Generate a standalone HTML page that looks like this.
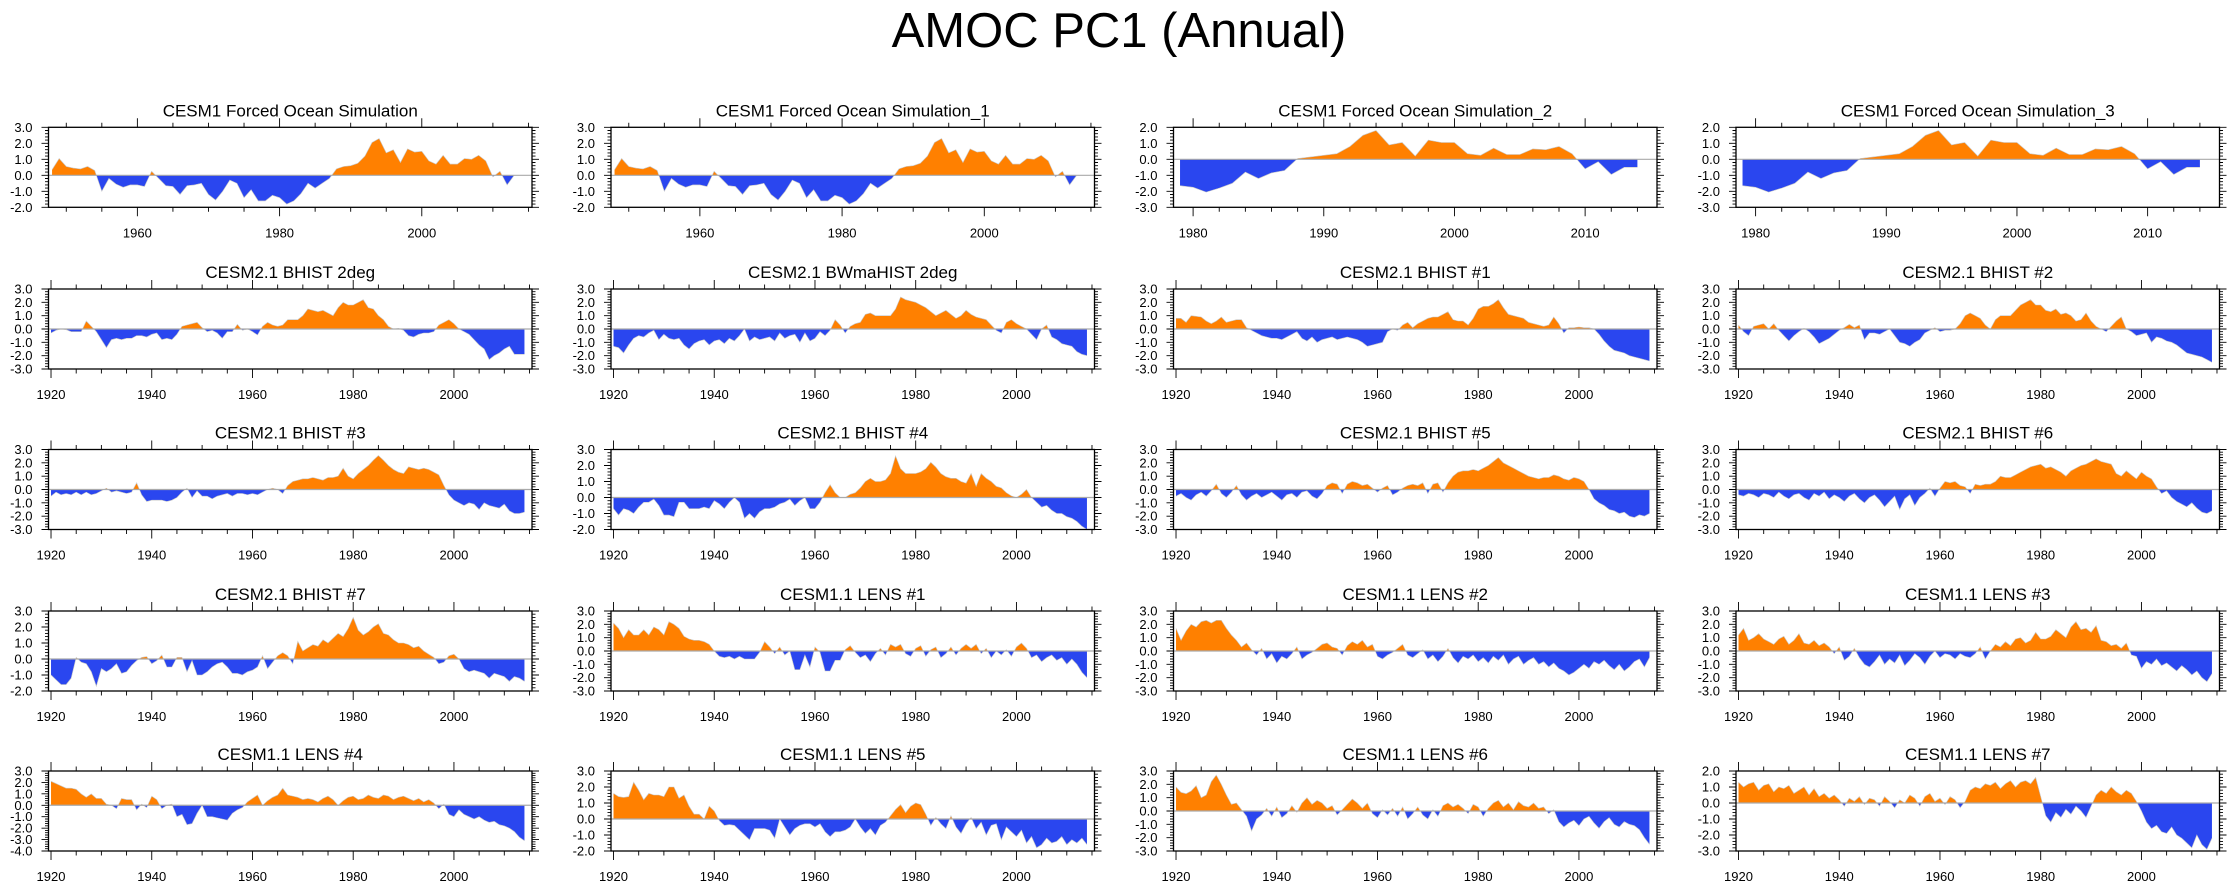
<!DOCTYPE html>
<html><head><meta charset="utf-8"><title>AMOC PC1 (Annual)</title>
<style>
html,body{margin:0;padding:0;background:#fff;}
svg{display:block;font-family:"Liberation Sans",Arial,sans-serif;}
</style></head>
<body>
<svg id="chart" width="2238" height="890" viewBox="0 0 2238 890" xmlns="http://www.w3.org/2000/svg">
<rect width="2238" height="890" fill="#fff"/>
<text x="1119" y="47" text-anchor="middle" font-size="49" fill="#000">AMOC PC1 (Annual)</text>
</svg>
<script>
// ---- data (annual PC1 values) ----
const fosStart = 1948;
const fos = [0.35,1.05,0.55,0.45,0.4,0.55,0.3,-1.0,-0.2,-0.55,-0.75,-0.6,-0.6,-0.7,0.25,-0.2,-0.65,-0.7,-1.2,-0.65,-0.6,-0.5,-1.2,-1.55,-1.0,-0.3,-0.5,-1.4,-0.9,-1.6,-1.6,-1.25,-1.4,-1.8,-1.6,-1.15,-0.5,-0.8,-0.5,-0.2,0.4,0.55,0.6,0.75,1.2,2.05,2.3,1.4,1.6,0.8,1.65,1.45,1.5,0.9,0.7,1.25,0.7,0.7,1.05,1.0,1.25,0.9,-0.1,0.25,-0.6,0.0];
const fos2Start = 1979;
const fos2 = [-1.65,-1.75,-2.05,-1.8,-1.5,-0.8,-1.2,-0.85,-0.7,0.05,0.15,0.25,0.35,0.8,1.5,1.8,0.9,1.05,0.2,1.2,1.05,1.05,0.35,0.25,0.7,0.3,0.3,0.65,0.6,0.8,0.35,-0.6,-0.15,-0.95,-0.5,-0.5];
const histStart = 1920;
const bhist2deg = [-0.3,-0.1,0.0,-0.05,-0.2,-0.2,-0.2,0.6,0.2,-0.2,-0.8,-1.4,-0.8,-0.7,-0.8,-0.7,-0.7,-0.5,-0.5,-0.6,-0.4,-0.3,-0.8,-0.7,-0.8,-0.4,0.2,0.3,0.4,0.5,0.1,-0.2,-0.1,-0.3,-0.7,-0.2,-0.2,0.35,-0.1,0.0,-0.2,-0.45,0.2,0.5,0.3,0.2,0.3,0.7,0.7,0.7,1.0,1.5,1.4,1.3,1.4,1.2,1.0,1.6,2.0,1.8,1.8,2.0,2.2,1.6,1.5,1.0,0.7,0.2,0.0,0.05,-0.1,-0.5,-0.6,-0.4,-0.3,-0.3,-0.2,0.3,0.5,0.7,0.4,0.0,-0.2,-0.4,-0.8,-1.2,-1.5,-2.3,-2.0,-1.8,-1.5,-1.3,-1.9,-1.9,-1.9];
const bwma = [-1.3,-1.4,-1.8,-1.2,-0.7,-0.5,-0.6,-0.3,-0.1,-0.8,-0.4,-0.7,-0.8,-0.7,-1.2,-1.5,-1.1,-0.9,-0.8,-1.2,-0.9,-0.8,-1.1,-0.7,-0.9,-0.5,0.0,-0.9,-0.6,-0.8,-0.7,-0.6,-0.9,-0.3,-0.7,-0.5,-0.4,-1.0,-0.3,-0.9,-0.7,-0.2,-0.5,-0.1,0.7,0.3,-0.3,0.2,0.4,0.5,1.1,1.2,1.0,1.0,1.0,1.0,1.5,2.4,2.2,2.1,2.0,1.8,1.6,1.3,1.0,1.2,1.4,1.1,0.8,1.0,1.4,1.1,0.9,0.8,0.7,0.3,-0.1,-0.3,0.5,0.7,0.4,0.2,0.0,-0.4,-0.8,0.0,0.3,-0.6,-0.8,-1.1,-1.2,-1.3,-1.7,-1.9,-2.0];
const bhist1 = [0.8,0.8,0.5,1.0,0.95,0.9,0.6,0.4,0.6,0.9,0.5,0.6,0.7,0.7,0.1,-0.1,-0.3,-0.5,-0.6,-0.7,-0.7,-0.8,-0.6,-0.4,-0.2,-0.7,-0.9,-0.6,-1.0,-0.8,-0.7,-0.6,-0.8,-0.7,-0.6,-0.7,-0.8,-1.0,-1.3,-1.2,-1.1,-1.0,-0.2,0.0,-0.1,0.3,0.5,0.1,0.4,0.6,0.8,0.9,0.9,1.1,1.3,0.7,0.6,0.6,0.3,0.8,1.5,1.7,1.7,1.9,2.2,1.6,1.1,1.0,0.9,0.8,0.5,0.4,0.3,0.2,0.3,0.9,0.4,-0.3,0.1,0.1,0.15,0.1,0.1,0.0,-0.4,-0.9,-1.3,-1.6,-1.7,-1.8,-2.0,-2.1,-2.2,-2.3,-2.4];
const bhist2 = [0.3,-0.2,-0.5,0.2,0.3,0.4,0.0,0.4,-0.1,-0.5,-0.9,-0.5,-0.2,0.05,-0.2,-0.6,-1.1,-0.9,-0.7,-0.4,-0.1,0.1,0.35,0.1,0.3,-0.8,-0.3,-0.3,-0.4,-0.2,0.0,-0.5,-1.0,-1.1,-1.3,-1.0,-0.8,-0.3,-0.1,0.1,-0.2,-0.1,-0.1,0.0,0.4,1.0,1.2,1.0,0.8,0.3,0.0,0.7,1.0,1.0,1.0,1.4,1.8,2.0,2.2,1.8,1.8,1.4,1.3,1.5,1.1,1.2,1.0,0.6,0.7,1.2,0.6,0.2,0.0,-0.2,0.2,0.6,0.9,0.0,-0.2,-0.5,-0.4,-0.3,-1.0,-0.6,-0.7,-0.9,-1.0,-1.2,-1.5,-1.8,-1.9,-2.0,-2.1,-2.3,-2.5];
const bhist3 = [-0.5,-0.2,-0.4,-0.3,-0.4,-0.2,-0.4,-0.2,-0.4,-0.3,-0.1,0.1,-0.2,-0.1,-0.2,-0.3,-0.2,0.5,-0.4,-0.9,-0.8,-0.8,-0.8,-0.9,-0.8,-0.6,-0.2,0.1,-0.6,-0.1,-0.5,-0.5,-0.7,-0.5,-0.4,-0.3,-0.5,-0.3,-0.3,-0.4,-0.3,-0.4,-0.2,0.0,0.1,0.0,-0.3,0.3,0.6,0.7,0.8,0.8,0.9,0.8,0.7,0.9,0.9,1.0,1.6,1.0,0.8,1.2,1.5,1.8,2.2,2.55,2.2,1.8,1.5,1.3,1.2,1.7,1.6,1.5,1.6,1.5,1.3,1.1,0.3,-0.4,-0.8,-1.0,-1.2,-1.0,-1.1,-1.5,-1.0,-1.2,-1.3,-1.4,-1.1,-1.6,-1.8,-1.8,-1.7];
const bhist4 = [-0.7,-1.1,-0.7,-0.8,-1.0,-0.6,-0.3,-0.3,-0.1,-0.5,-1.1,-1.1,-1.2,-0.3,-0.3,-0.7,-0.7,-0.7,-0.6,-0.7,-0.2,-0.4,-0.7,-0.3,0.0,-0.3,-1.3,-1.0,-1.3,-0.9,-0.7,-0.7,-0.6,-0.4,-0.3,-0.1,-0.5,-0.2,0.0,-0.7,-0.7,-0.3,0.3,0.8,0.3,0.0,0.0,0.2,0.3,0.6,1.0,1.2,1.0,1.0,1.1,1.5,2.6,1.8,1.5,1.5,1.5,1.6,1.8,2.2,1.9,1.5,1.3,1.2,1.2,1.0,0.9,1.5,0.7,1.5,1.2,1.0,0.7,0.6,0.3,0.1,0.0,0.2,0.5,0.0,-0.3,-0.6,-0.5,-0.8,-1.0,-1.0,-1.2,-1.3,-1.5,-1.8,-2.0];
const bhist5 = [-0.5,-0.3,-0.6,-0.8,-0.4,-0.2,-0.5,-0.1,0.4,-0.3,-0.6,-0.2,0.3,-0.4,-0.8,-0.5,-0.3,-0.6,-0.4,-0.2,-0.5,-0.8,-0.4,-0.3,-0.6,-0.2,-0.1,-0.5,-0.7,-0.3,0.3,0.5,0.4,-0.3,0.4,0.6,0.5,0.3,0.4,0.1,-0.2,0.1,0.3,-0.4,-0.2,0.1,0.3,0.4,0.3,0.5,-0.3,0.4,0.5,-0.2,0.5,1.0,1.3,1.4,1.4,1.5,1.4,1.6,1.8,2.1,2.4,2.0,1.8,1.6,1.4,1.2,1.0,0.9,0.8,0.9,0.9,1.1,1.0,0.8,0.7,0.9,0.8,0.6,0.0,-0.7,-1.0,-1.2,-1.5,-1.6,-1.8,-1.7,-2.0,-2.1,-1.9,-2.0,-1.8];
const bhist6 = [-0.4,-0.5,-0.3,-0.4,-0.6,-0.3,-0.4,-0.6,-0.2,-0.5,-0.7,-0.4,-0.3,-0.6,-0.8,-0.3,-0.5,-0.2,-0.7,-0.4,-0.6,-0.9,-0.5,-0.3,-0.7,-1.0,-0.6,-0.4,-0.8,-1.3,-0.9,-0.5,-1.5,-0.7,-0.4,-1.2,-0.6,-0.3,0.1,-0.5,0.1,0.6,0.5,0.6,0.3,0.2,-0.3,0.4,0.3,0.4,0.4,0.6,1.0,0.9,0.9,1.1,1.3,1.5,1.7,1.8,1.9,1.6,1.7,1.5,1.3,1.0,1.4,1.6,1.8,1.9,2.1,2.3,2.1,2.0,1.9,1.2,1.0,1.4,1.1,0.8,1.3,1.0,0.8,0.2,-0.3,-0.1,-0.6,-0.9,-1.1,-1.3,-1.0,-1.4,-1.7,-1.8,-1.6];
const bhist7 = [-1.0,-1.3,-1.6,-1.6,-1.2,0.1,-0.2,-0.3,-0.8,-1.7,-0.6,-0.8,-0.6,-0.3,-0.9,-0.8,-0.4,-0.1,0.1,0.15,-0.3,-0.1,0.25,-0.5,-0.5,0.1,0.1,-0.8,-0.1,-1.0,-1.0,-0.8,-0.5,-0.3,-0.2,-0.5,-0.9,-0.9,-1.0,-0.8,-0.7,-0.5,0.2,-0.6,-0.2,0.2,0.4,0.2,-0.3,1.1,0.5,0.7,0.9,0.8,1.2,1.0,1.3,1.6,1.4,1.9,2.6,1.8,1.5,1.7,2.0,2.2,1.6,1.5,1.2,1.0,1.0,0.9,0.7,0.8,0.5,0.3,0.1,-0.3,-0.2,0.2,0.3,0.0,-0.6,-0.8,-0.7,-0.8,-0.9,-1.2,-0.9,-1.0,-1.1,-1.4,-1.1,-1.2,-1.4];
const lens1 = [2.1,1.7,1.0,1.6,1.2,1.2,1.6,1.2,1.8,1.6,1.2,2.2,2.0,1.7,1.1,0.9,0.8,0.8,0.7,0.5,0.0,-0.4,-0.5,-0.4,-0.6,-0.4,-0.6,-0.6,-0.6,-0.1,0.7,0.3,-0.2,0.3,-0.3,0.0,-1.4,-1.4,-0.3,-1.2,0.3,-0.1,-1.5,-1.5,-0.7,-0.7,0.1,0.4,-0.1,-0.5,-0.3,-0.8,-0.2,0.2,-0.3,0.5,0.3,0.5,-0.2,-0.4,0.2,0.4,-0.4,0.1,0.3,-0.5,-0.2,0.3,-0.3,0.2,0.5,0.2,0.5,-0.2,0.2,-0.5,0.0,-0.3,0.1,-0.4,0.3,0.6,0.2,-0.5,-0.3,-0.8,-0.5,-0.3,-0.7,-0.5,-1.0,-0.6,-1.0,-1.6,-2.0];
const lens2 = [1.7,0.8,1.5,2.0,1.8,2.2,2.3,2.1,2.3,2.3,1.7,1.2,0.8,0.3,0.6,0.1,-0.3,0.2,-0.6,-0.2,-0.9,-0.4,-0.6,-0.2,0.3,-0.6,-0.3,-0.1,0.2,0.5,0.6,0.3,0.2,-0.3,0.4,0.7,0.5,0.8,0.3,0.5,-0.4,-0.6,-0.3,-0.1,0.2,0.5,-0.3,-0.5,-0.2,0.1,-0.6,-0.3,-0.8,-0.4,0.2,-0.5,-0.9,-0.4,-0.6,-0.3,-0.8,-0.5,-0.9,-0.4,-0.7,-0.3,-1.0,-0.6,-0.4,-1.0,-0.7,-0.5,-1.0,-0.8,-1.2,-0.9,-1.3,-1.5,-1.8,-1.6,-1.3,-1.0,-1.3,-0.8,-1.0,-0.7,-1.1,-1.4,-1.0,-1.5,-1.2,-0.8,-0.6,-1.2,-0.5];
const lens3 = [1.2,1.7,0.8,1.0,1.3,0.9,0.7,0.5,0.9,1.1,0.5,0.8,1.3,0.6,0.5,0.8,0.4,0.6,0.3,-0.2,0.3,-0.7,-0.4,0.2,-0.5,-1.0,-1.2,-0.8,-0.3,-1.0,-0.6,-0.9,-0.3,-1.1,-0.7,-0.2,-0.5,-1.0,-0.4,0.0,-0.5,-0.2,-0.3,-0.6,-0.2,-0.4,-0.5,-0.2,0.3,-0.6,0.0,0.5,0.3,0.7,0.4,0.9,1.0,0.6,0.8,1.4,0.9,0.9,1.1,1.6,1.3,1.0,1.8,2.2,1.6,1.7,1.4,1.9,0.8,0.7,0.4,0.5,0.2,0.6,-0.3,-0.4,-1.3,-0.8,-1.0,-0.6,-1.1,-0.9,-1.2,-1.5,-1.1,-1.4,-1.8,-1.5,-2.0,-2.3,-1.7];
const lens4 = [2.1,1.9,1.7,1.5,1.5,1.4,1.0,0.7,1.0,0.6,0.6,0.1,0.0,-0.3,0.6,0.5,0.5,-0.4,0.1,-0.2,0.8,0.5,-0.3,0.0,0.1,-1.0,-0.8,-1.7,-1.6,-0.7,0.0,-1.0,-1.0,-1.1,-1.2,-1.3,-0.7,-0.4,-0.2,0.3,0.6,0.9,0.0,0.4,0.7,0.9,1.5,0.9,0.8,0.7,0.5,0.6,0.5,0.3,0.6,0.8,0.5,0.0,0.4,0.7,0.8,0.5,0.6,0.9,0.7,0.6,0.9,0.8,0.5,0.7,0.8,0.6,0.4,0.6,0.3,0.5,0.2,-0.3,0.1,-0.8,-1.0,-0.4,-0.8,-1.0,-1.2,-1.0,-1.3,-1.5,-1.4,-1.7,-1.8,-2.0,-2.3,-2.8,-3.1];
const lens5 = [1.6,1.4,1.35,1.4,2.3,1.8,1.2,1.6,1.5,1.5,1.4,2.0,2.0,1.3,1.5,0.8,0.3,0.3,0.0,0.8,0.5,-0.1,-0.4,-0.35,-0.4,-0.7,-1.0,-1.3,-0.6,-0.6,-0.6,-0.7,-1.2,0.0,-0.5,-1.0,-0.6,-0.4,-0.3,-0.3,-0.5,-0.3,-0.8,-1.1,-0.8,-0.8,-0.7,-0.5,0.0,-0.5,-0.9,-0.6,-1.0,-0.4,-0.2,0.2,0.6,0.9,0.4,0.8,1.0,0.9,0.3,-0.4,0.1,-0.3,-0.6,0.2,-0.5,-0.9,-0.3,0.1,-0.6,-0.2,-1.0,-0.4,-0.3,-1.3,-0.5,-0.8,-1.1,-0.7,-1.5,-1.1,-1.8,-1.6,-1.2,-1.5,-1.4,-1.1,-1.6,-1.3,-1.5,-1.2,-1.6];
const lens6 = [1.8,1.4,1.3,1.5,1.9,1.0,1.2,2.2,2.7,2.0,1.2,0.5,0.6,0.1,-0.4,-1.5,-0.6,-0.3,0.2,-0.4,0.3,-0.5,-0.2,0.4,-0.1,0.6,1.0,0.5,0.8,0.6,0.2,0.4,-0.3,0.1,0.5,0.9,0.6,0.2,0.6,-0.2,-0.5,0.1,-0.3,0.2,-0.4,0.3,-0.6,-0.2,0.3,-0.3,-0.6,0.1,-0.4,0.4,0.6,0.3,0.5,0.2,-0.2,0.5,0.3,-0.4,0.2,0.6,0.8,0.3,0.6,0.1,0.7,0.4,0.3,0.6,0.2,0.3,-0.2,0.1,-0.8,-1.2,-0.9,-0.7,-1.1,-0.6,-0.4,-0.9,-1.3,-0.8,-0.5,-1.0,-1.2,-0.8,-1.0,-1.1,-1.4,-2.0,-2.5];
const lens7 = [1.3,1.0,1.2,1.3,0.8,1.1,1.2,0.7,1.0,0.9,1.1,0.6,0.8,1.0,0.5,0.9,0.4,0.6,0.3,0.5,0.2,-0.2,0.3,0.1,0.4,-0.1,0.3,0.2,-0.2,0.4,0.1,-0.3,0.2,0.0,0.5,0.3,-0.2,0.4,0.6,0.1,0.3,-0.1,0.4,0.2,-0.3,0.1,0.8,1.0,0.9,1.2,1.1,1.3,0.9,1.2,1.4,1.0,1.3,1.4,1.2,1.6,0.4,-0.8,-1.2,-0.6,-0.9,-0.4,-0.7,-0.2,-0.5,-0.9,-0.2,0.5,0.8,0.6,1.0,0.7,0.5,0.8,0.6,0.1,-0.5,-1.2,-1.6,-1.4,-1.8,-1.9,-1.5,-2.0,-2.2,-2.5,-2.8,-2.0,-2.6,-2.9,-2.2];

// ---- panel titles (row-major) ----
const titles = ["CESM1 Forced Ocean Simulation","CESM1 Forced Ocean Simulation_1","CESM1 Forced Ocean Simulation_2","CESM1 Forced Ocean Simulation_3",
"CESM2.1 BHIST 2deg","CESM2.1 BWmaHIST 2deg","CESM2.1 BHIST #1","CESM2.1 BHIST #2",
"CESM2.1 BHIST #3","CESM2.1 BHIST #4","CESM2.1 BHIST #5","CESM2.1 BHIST #6",
"CESM2.1 BHIST #7","CESM1.1 LENS #1","CESM1.1 LENS #2","CESM1.1 LENS #3",
"CESM1.1 LENS #4","CESM1.1 LENS #5","CESM1.1 LENS #6","CESM1.1 LENS #7"];
const series = [fos,fos,fos2,fos2,bhist2deg,bwma,bhist1,bhist2,bhist3,bhist4,bhist5,bhist6,bhist7,lens1,lens2,lens3,lens4,lens5,lens6,lens7];
const startYears = [fosStart,fosStart,fos2Start,fos2Start,1920,1920,1920,1920,1920,1920,1920,1920,1920,1920,1920,1920,1920,1920,1920,1920];
const yMaxes = [3,3,2,2, 3,3,3,3, 3,3,3,3, 3,3,3,3, 3,3,3,2];
const yMins = [-2,-2,-3,-3, -3,-3,-3,-3, -3,-2,-3,-3, -2,-3,-3,-3, -4,-2,-3,-3];

// ---- layout ----
const NS = "http://www.w3.org/2000/svg";
const svg = document.getElementById('chart');
const colX = [48.5, 611, 1173.5, 1736];
const rowY = [127.3, 289, 449.5, 611, 771];
const PW = 483.5, PH = 80;
function mk(tag, attrs, parent) {
  const e = document.createElementNS(NS, tag);
  for (const k in attrs) e.setAttribute(k, attrs[k]);
  (parent || svg).appendChild(e);
  return e;
}

series.forEach((data, i) => {
  const r = Math.floor(i / 4), c = i % 4;
  const x0 = colX[c], y0 = rowY[r];
  const start = startYears[i];
  let xmin, xmax, major, minor;
  if (start === 1948) { xmin = 1947.5; xmax = 2015.5; major = 20; minor = 5; }
  else if (start === 1979) { xmin = 1978.5; xmax = 2015.5; major = 10; minor = 2; }
  else { xmin = 1919.5; xmax = 2015.5; major = 20; minor = 5; }
  const ymax = yMaxes[i], ymin = yMins[i];
  const sx = yr => x0 + (yr - xmin) / (xmax - xmin) * PW;
  const sy = v => y0 + (ymax - v) / (ymax - ymin) * PH;

  const g = mk('g', {});
  
  

  const t = mk('text', {x: x0 + PW / 2, y: y0 - 11, 'text-anchor': 'middle', 'font-size': 17, fill: '#000'}, g);
  
  
  t.textContent = titles[i];

  // area path
  const zy = sy(0);
  let d = 'M' + sx(start).toFixed(2) + ',' + zy.toFixed(2);
  data.forEach((v, k) => { d += 'L' + sx(start + k).toFixed(2) + ',' + sy(v).toFixed(2); });
  d += 'L' + sx(start + data.length - 1).toFixed(2) + ',' + zy.toFixed(2) + 'Z';
  const cidP = 'cp' + i, cidN = 'cn' + i;
  const defs = mk('defs', {}, g);
  const cp = mk('clipPath', {id: cidP}, defs);
  mk('rect', {x: x0, y: y0, width: PW, height: zy - y0}, cp);
  const cn = mk('clipPath', {id: cidN}, defs);
  mk('rect', {x: x0, y: zy, width: PW, height: y0 + PH - zy}, cn);
  const pos = mk('path', {d: d, fill: '#ff8000', 'clip-path': 'url(#' + cidP + ')'}, g);
  
  
  const neg = mk('path', {d: d, fill: '#2a46ef', 'clip-path': 'url(#' + cidN + ')'}, g);
  
  
  let ld = '';
  data.forEach((v, k) => { ld += (k ? 'L' : 'M') + sx(start + k).toFixed(2) + ',' + sy(v).toFixed(2); });
  const ln = mk('path', {d: ld, fill: 'none', stroke: '#c8c8c8', 'stroke-width': 0.6}, g);
  
  

  const zl = mk('line', {x1: x0, x2: x0 + PW, y1: zy, y2: zy, stroke: '#aaa', 'stroke-width': 1.2}, g);
  
  

  // ticks
  let tk = '';
  for (let yr = Math.ceil(xmin / minor) * minor; yr <= xmax; yr += minor) {
    const X = sx(yr), L = (yr % major === 0) ? 9 : 4.5;
    tk += 'M' + X + ',' + y0 + 'v' + (-L) + 'M' + X + ',' + (y0 + PH) + 'v' + L;
  }
  const nMinor = Math.round((ymax - ymin) / 0.2);
  for (let k = 0; k <= nMinor; k++) {
    const v = ymin + k * 0.2, Y = sy(v);
    const isMaj = Math.abs(v - Math.round(v)) < 1e-6;
    const L = isMaj ? 7 : 3.5;
    tk += 'M' + x0 + ',' + Y + 'h' + (-L) + 'M' + (x0 + PW) + ',' + Y + 'h' + L;
  }
  const tp = mk('path', {d: tk, stroke: '#000', 'stroke-width': 0.9, fill: 'none'}, g);
  
  

  const box = mk('rect', {x: x0, y: y0, width: PW, height: PH, fill: 'none', stroke: '#000', 'stroke-width': 1.3}, g);
  
  

  for (let yr = Math.ceil(xmin / major) * major; yr <= xmax; yr += major) {
    const xl = mk('text', {x: sx(yr), y: y0 + PH + 30, 'text-anchor': 'middle', 'font-size': 13, fill: '#000'}, g);
    
    
    xl.textContent = yr;
  }
  for (let v = ymin; v <= ymax; v++) {
    const yl = mk('text', {x: x0 - 16, y: sy(v) + 4.5, 'text-anchor': 'end', 'font-size': 13, fill: '#000'}, g);
    
    
    yl.textContent = v.toFixed(1);
  }
});
</script>
</body></html>
